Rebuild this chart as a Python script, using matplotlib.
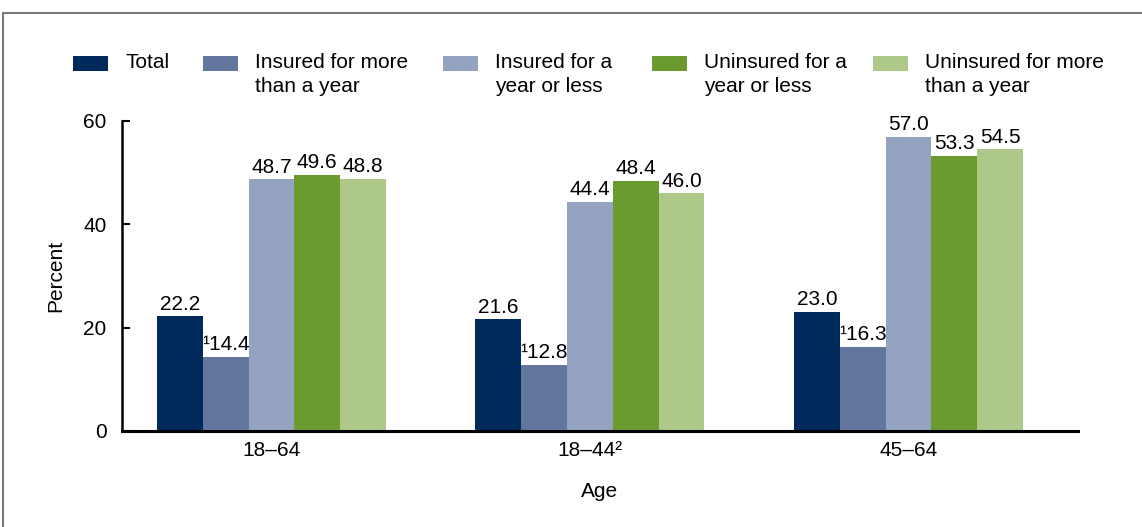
import matplotlib

matplotlib.use("Agg")
import matplotlib.pyplot as plt
import numpy as np
from matplotlib.patches import Rectangle

plt.rcParams["font.family"] = ["Liberation Sans", "DejaVu Sans"]

# data
ages = ["18\u201364", "18\u201344\u00b2", "45\u201364"]
series = [
    "Total",
    "Insured for more\nthan a year",
    "Insured for a\nyear or less",
    "Uninsured for a\nyear or less",
    "Uninsured for more\nthan a year",
]
total = [22.2, 21.6, 23.0]
insured_long = [14.4, 12.8, 16.3]
insured_short = [48.7, 44.4, 57.0]
uninsured_short = [49.6, 48.4, 53.3]
uninsured_long = [48.8, 46.0, 54.5]
label_prefix = ["", "\u00b9", "", "", ""]
yticks = [0, 20, 40, 60]

colors = ["#002a5c", "#63769e", "#95a3c2", "#6b9b2f", "#aec88a"]
FS = 15

W, H = 1142, 527
fig = plt.figure(figsize=(W / 100, H / 100), dpi=100)
ax = fig.add_axes([122 / W, 1 - 431 / H, (1078 - 122) / W, (431 - 121) / H])

values = [total, insured_long, insured_short, uninsured_short, uninsured_long]
x = np.arange(len(ages))
bw = 0.1438
for i, (vals, col, pre) in enumerate(zip(values, colors, label_prefix)):
    pos = x + (i - 2) * bw
    bars = ax.bar(pos, vals, width=bw, color=col, linewidth=0)
    for b, v in zip(bars, vals):
        ax.annotate(f"{pre}{v:.1f}", (b.get_x() + b.get_width() / 2, v),
                    xytext=(0, 2), textcoords="offset points",
                    ha="center", va="bottom", fontsize=FS, annotation_clip=False)

ax.set_xlim(-0.469, 2.532)
ax.set_ylim(0, 60)
ax.set_yticks(yticks)
ax.set_xticks(x)
ax.set_xticklabels(ages)
ax.tick_params(axis="y", direction="in", length=6, width=1.5, pad=11, labelsize=FS)
ax.tick_params(axis="x", length=0, pad=7, labelsize=FS)
for s in ("top", "right"):
    ax.spines[s].set_visible(False)
ax.spines["left"].set_linewidth(1.8)
ax.spines["bottom"].set_linewidth(2.2)
ax.set_ylabel("Percent", fontsize=FS, labelpad=13)
ax.set_xlabel("Age", fontsize=FS, labelpad=16)

# legend
leg_x = [73, 203, 443, 652, 873]
for lx, name, col in zip(leg_x, series, colors):
    fig.patches.append(Rectangle((lx / W, 1 - 71 / H), 35 / W, 15 / H,
                                 transform=fig.transFigure, color=col, linewidth=0))
    fig.text((lx + 52) / W, 1 - 53 / H, name, fontsize=FS, va="top", ha="left",
             linespacing=1.35)

# frame
fig.patches.append(Rectangle((3 / W, -0.1), 1.2, 1 - 13 / H + 0.1,
                             transform=fig.transFigure, fill=False,
                             edgecolor="#7a7a7a", linewidth=1.5))

fig.savefig("out.png", dpi=100)
